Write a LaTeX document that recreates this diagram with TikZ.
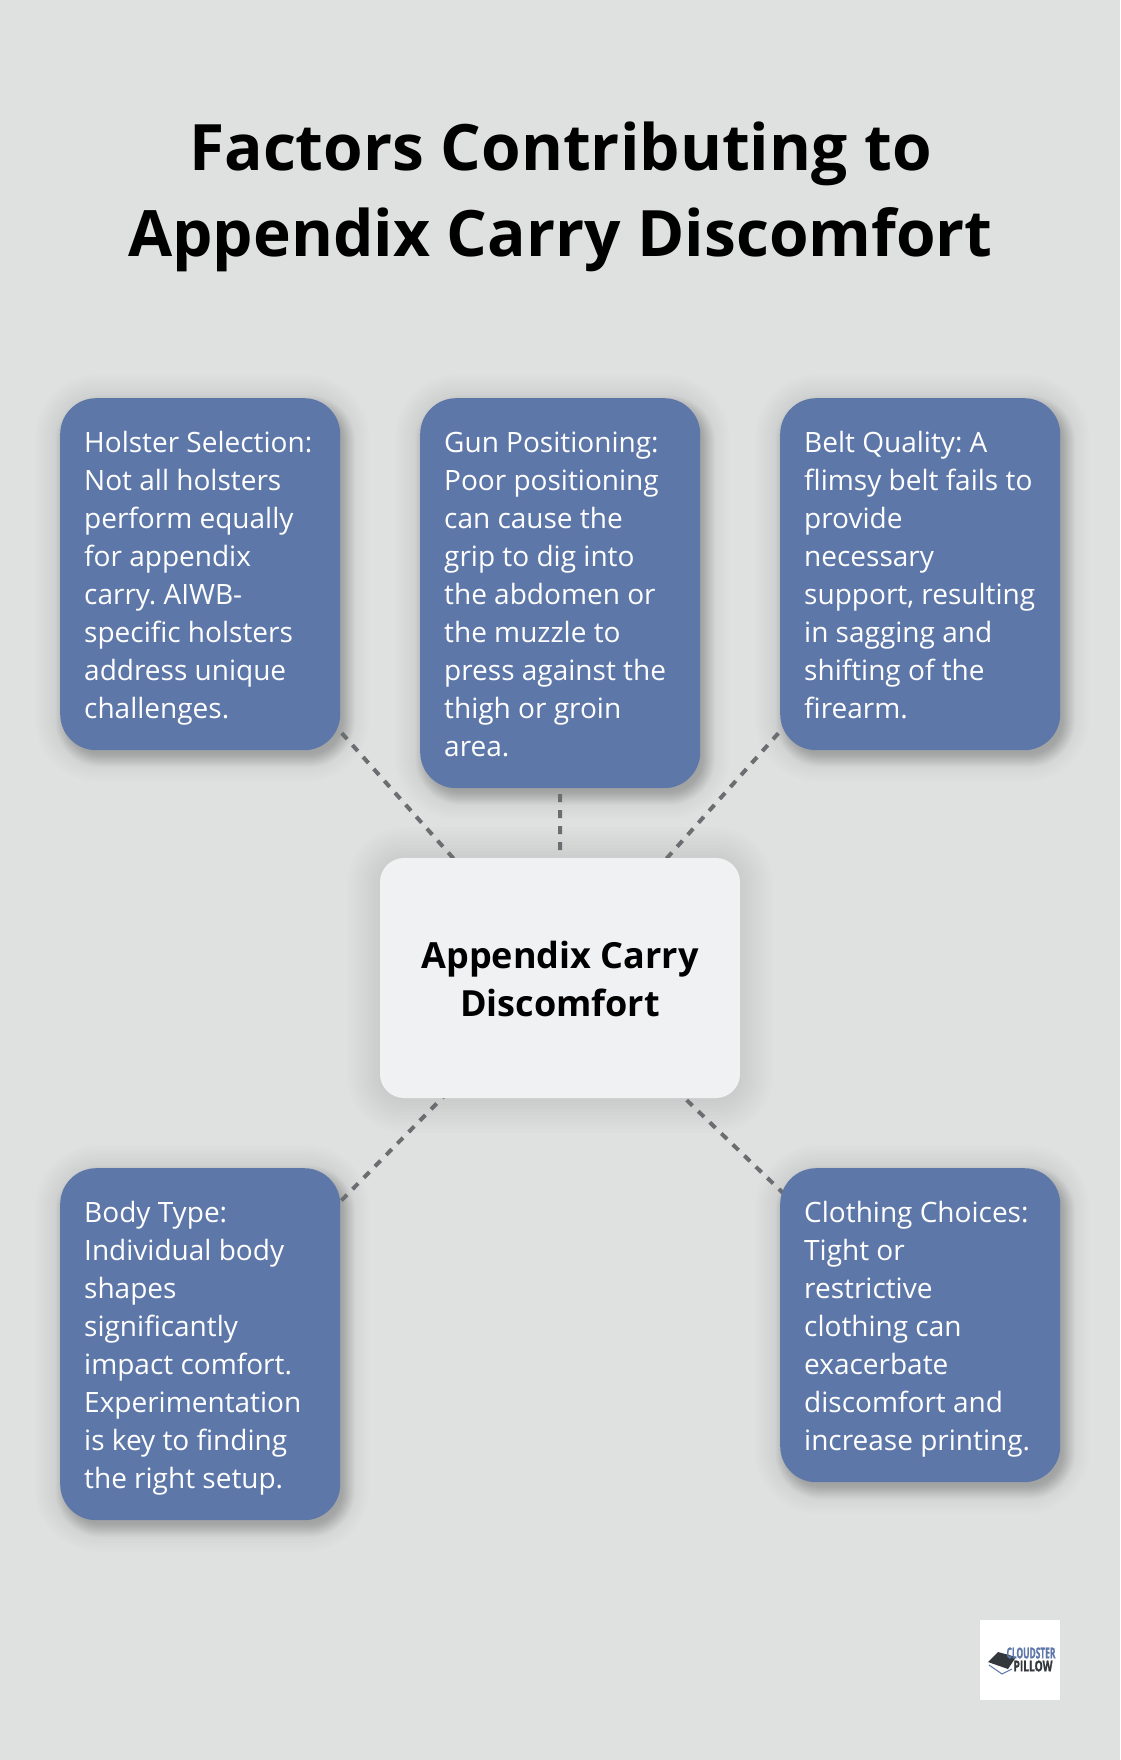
\documentclass[tikz,border=0pt]{standalone}
\usepackage{fontspec}
\setmainfont{Open Sans}
\newfontfamily\logofont{Open Sans}[BoldFeatures={FakeBold=1.5}]
\usetikzlibrary{calc,backgrounds}
\definecolor{pagegrey}{HTML}{DFE1E1}
\definecolor{factorblue}{HTML}{5E77A9}
\definecolor{hubwhite}{HTML}{EFF1F3}
\definecolor{linkgrey}{HTML}{6B6E70}
\definecolor{logoblue}{HTML}{5E77A9}
\definecolor{logodark}{HTML}{33383D}
\newcommand{\factorstrut}{\rule[-8pt]{0pt}{38pt}}
\newcommand{\hubstrut}{\rule[-10pt]{0pt}{48pt}}
\tikzset{
	factorbox/.style={anchor=north west,fill=factorblue,text=white,rounded corners=36pt,
		minimum width=280pt,text width=232pt,inner xsep=24pt,inner ysep=24pt,align=flush left,
		font=\fontsize{28}{38}\selectfont\frenchspacing,
		execute at begin node=\factorstrut,execute at end node=\factorstrut},
	hubbox/.style={fill=hubwhite,text=black,rounded corners=24pt,minimum width=360pt,
		minimum height=240pt,text width=360pt,inner sep=0pt,align=flush center,font=\fontsize{36}{48}\selectfont\bfseries,
		execute at begin node=\hubstrut,execute at end node=\hubstrut},
	linkline/.style={draw=linkgrey,line width=4pt,dash pattern=on 8pt off 8pt},
}
% soft shadow: node, corner radius, x offset, y offset, reach, opacity of one layer
\newcommand{\softshadow}[6]{
	\foreach \g in {1,...,14}{
		\pgfmathsetmacro{\grow}{#5*(1-\g/14)-#5*0.25}
		\pgfmathsetmacro{\rad}{max(#2+\grow,2)}
		\fill[black,opacity=#6,rounded corners=\rad pt]
			($(#1.south west)+(#3-\grow,#4+\grow)$) rectangle ($(#1.north east)+(#3+\grow,#4-\grow)$);
	}
}
\begin{document}
\begin{tikzpicture}[x=1pt,y=-1pt]
	\useasboundingbox (0,0) rectangle (1120,1760);
	\node[factorbox] (holster) at (60,398) {Holster Selection:\\Not all holsters\\perform equally\\for appendix\\carry. AIWB-\\specific holsters\\address unique\\challenges.};
	\node[factorbox] (gun) at (420,398) {Gun Positioning:\\Poor positioning\\can cause the\\grip to dig into\\the abdomen or\\the muzzle to\\press against the\\thigh or groin\\area.};
	\node[factorbox] (belt) at (780,398) {Belt Quality: A\\flimsy belt fails to\\provide\\necessary\\support, resulting\\in sagging and\\shifting of the\\firearm.};
	\node[factorbox] (body) at (60,1168) {Body Type:\\Individual body\\shapes\\significantly\\impact comfort.\\Experimentation\\is key to finding\\the right setup.};
	\node[factorbox] (clothing) at (780,1168) {Clothing Choices:\\Tight or\\restrictive\\clothing can\\exacerbate\\discomfort and\\increase printing.};
	\node[hubbox] (hub) at (560,978) {Appendix Carry\\Discomfort};
%
	\node[font=\fontsize{64}{86}\selectfont\bfseries,align=center,inner sep=0pt] (title) at (560.5,197) {Factors Contributing to\\Appendix Carry Discomfort};
%
	\begin{pgfonlayer}{background}
		\fill[pagegrey] (0,0) rectangle (1120,1760);
		\foreach \name in {holster,gun,belt,body,clothing}{
			\softshadow{\name}{36}{2}{4}{40}{0.006}
			\softshadow{\name}{36}{5}{7}{14}{0.011}
		}
		\softshadow{hub}{24}{0}{2}{48}{0.0085}
		\foreach \name in {holster,gun,belt,body,clothing}{
			\draw[linkline] (hub.center) -- (\name.center);
		}
	\end{pgfonlayer}
%
	\node[fill=white,minimum size=80pt,inner sep=0pt] (logo) at (1020,1660) {};
	\draw[logoblue,line width=1pt] ($(logo.center)+(-31,5)$) -- ($(logo.center)+(-18,14)$) -- ($(logo.center)+(-8,9)$);
	\fill[logodark] ($(logo.center)+(-32,2)$) -- ($(logo.center)+(-22,-8)$) -- ($(logo.center)+(-4,-3)$) -- ($(logo.center)+(-12,9)$) -- cycle;
	\node[font=\fontsize{15}{15}\selectfont\logofont\bfseries,text=logoblue,xscale=0.56,transform shape,inner sep=0pt] (logotop) at (1031,1653) {CLOUDSTER};
	\node[font=\fontsize{15}{15}\selectfont\logofont\bfseries,text=logodark,xscale=0.68,transform shape,inner sep=0pt] (logolow) at (1033,1666) {PILLOW};
\end{tikzpicture}
\end{document}
